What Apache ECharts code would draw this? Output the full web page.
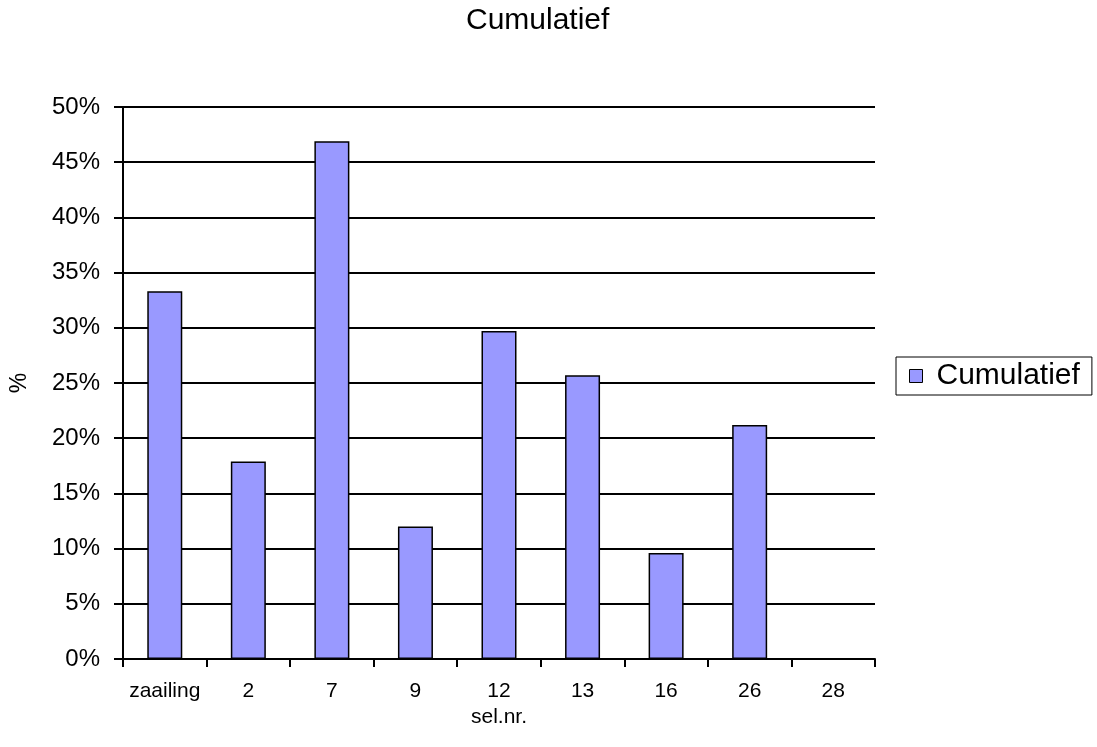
<!DOCTYPE html>
<html>
<head>
<meta charset="utf-8">
<style>
  html, body { margin: 0; padding: 0; background: #ffffff; }
  #chart { width: 1097px; height: 747px; }
</style>
<script src="https://cdn.jsdelivr.net/npm/echarts@6/dist/echarts.min.js"></script>
</head>
<body>
<div id="chart"></div>
<script>
// Selection numbers along the category axis
const categories = ['zaailing', '2', '7', '9', '12', '13', '16', '26', '28'];
// Cumulative share per selection, in percent
const cumulatief = [33.3, 17.9, 46.9, 12.0, 29.7, 25.7, 9.6, 21.2, 0];
// Value axis range and step, in percent
const yMin = 0;
const yMax = 50;
const yStep = 5;

const FONT = '"Liberation Sans", Arial, sans-serif';
const chart = echarts.init(document.getElementById('chart'), null, { renderer: 'canvas' });

chart.setOption({
  backgroundColor: '#ffffff',
  animation: false,
  textStyle: { fontFamily: FONT, color: '#000' },
  title: {
    text: 'Cumulatief',
    left: 466,
    top: 6,
    padding: 0,
    textStyle: { fontFamily: FONT, fontSize: 30, fontWeight: 'normal', color: '#000' }
  },
  legend: {
    left: 896,
    top: 357,
    orient: 'vertical',
    data: ['Cumulatief'],
    icon: 'rect',
    itemWidth: 13,
    itemHeight: 13,
    padding: [4, 12, 4, 13],
    borderColor: '#000',
    borderWidth: 1,
    borderRadius: 0,
    itemStyle: { borderColor: '#000', borderWidth: 1 },
    textStyle: { fontFamily: FONT, fontSize: 30, color: '#000', padding: [0, 0, 0, 9] }
  },
  grid: { left: 119, top: 107, right: 222, bottom: 88, containLabel: false },
  xAxis: {
    type: 'category',
    data: categories,
    name: 'sel.nr.',
    nameLocation: 'middle',
    nameGap: 41,
    nameTextStyle: { fontFamily: FONT, fontSize: 21, color: '#000', verticalAlign: 'top' },
    axisLine: { show: true, lineStyle: { color: '#000', width: 2 } },
    axisTick: { show: true, alignWithLabel: false, length: 8, lineStyle: { color: '#000', width: 2 } },
    axisLabel: { margin: 22, fontFamily: FONT, fontSize: 21, color: '#000', interval: 0 },
    splitLine: { show: false }
  },
  yAxis: {
    type: 'value',
    min: yMin,
    max: yMax,
    interval: yStep,
    name: '%',
    nameLocation: 'middle',
    nameGap: 92,
    nameRotate: 90,
    nameTextStyle: { fontFamily: FONT, fontSize: 23, color: '#000' },
    axisLine: { show: true, lineStyle: { color: '#000', width: 2 } },
    axisTick: { show: true, length: 9, lineStyle: { color: '#000', width: 2 } },
    axisLabel: { margin: 23, fontFamily: FONT, fontSize: 24, color: '#000', formatter: '{value}%' },
    splitLine: { show: true, lineStyle: { color: '#000', width: 2 } }
  },
  series: [{
    name: 'Cumulatief',
    type: 'bar',
    data: cumulatief,
    barWidth: 35,
    itemStyle: { color: '#9999FF', borderColor: '#000', borderWidth: 1.5 }
  }]
});
</script>
</body>
</html>
